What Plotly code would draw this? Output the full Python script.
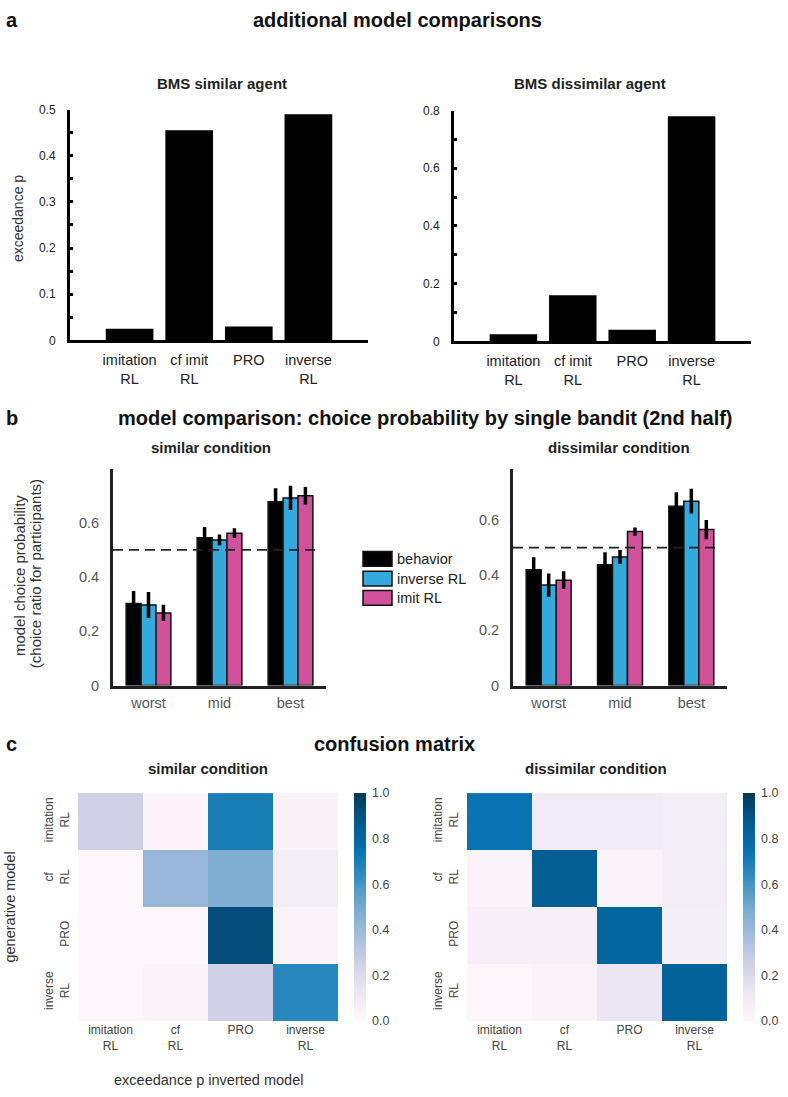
import plotly.graph_objects as go

# ---------------- data ----------------
bms_models = ["imitation<br>RL", "cf imit<br>RL", "PRO", "inverse<br>RL"]
bms_similar = [0.025, 0.455, 0.03, 0.49]
bms_dissimilar = [0.025, 0.16, 0.04, 0.78]

bandits = ["worst", "mid", "best"]
series_names = ["behavior", "inverse RL", "imit RL"]
series_colors = ["#000000", "#34a9dc", "#cf529b"]
sim_means = {
    "behavior": [0.303, 0.545, 0.678],
    "inverse RL": [0.297, 0.537, 0.692],
    "imit RL": [0.268, 0.562, 0.700],
}
sim_errs = {
    "behavior": [0.046, 0.040, 0.050],
    "inverse RL": [0.048, 0.020, 0.045],
    "imit RL": [0.030, 0.018, 0.032],
}
dis_means = {
    "behavior": [0.420, 0.438, 0.650],
    "inverse RL": [0.364, 0.466, 0.668],
    "imit RL": [0.382, 0.558, 0.565],
}
dis_errs = {
    "behavior": [0.045, 0.045, 0.050],
    "inverse RL": [0.042, 0.025, 0.045],
    "imit RL": [0.032, 0.015, 0.035],
}
chance_level = 0.5

cm_labels = ["imitation<br>RL", "cf<br>RL", "PRO", "inverse<br>RL"]
cm_similar = [
    [0.25, 0.02, 0.70, 0.04],
    [0.01, 0.41, 0.47, 0.08],
    [0.01, 0.01, 0.92, 0.03],
    [0.01, 0.03, 0.25, 0.66],
]
cm_dissimilar = [
    [0.74, 0.09, 0.09, 0.08],
    [0.03, 0.85, 0.03, 0.08],
    [0.06, 0.06, 0.81, 0.07],
    [0.01, 0.03, 0.13, 0.83],
]

# ---------------- layout helpers ----------------
W, H = 788, 1097
FONT = "Liberation Sans, Arial, Helvetica, sans-serif"


def xd(a, b):
    return [a / W, b / W]


def yd(top, bottom):
    return [1 - bottom / H, 1 - top / H]


def px(x):
    return x / W


def py(y):
    return 1 - y / H


fig = go.Figure()

# ---- panel a ----
fig.add_trace(go.Bar(x=[1, 2, 3, 4], y=bms_similar, width=0.8,
                     marker=dict(color="black", line=dict(width=0)),
                     xaxis="x", yaxis="y", showlegend=False))
fig.add_trace(go.Bar(x=[1, 2, 3, 4], y=bms_dissimilar, width=0.8,
                     marker=dict(color="black", line=dict(width=0)),
                     xaxis="x2", yaxis="y2", showlegend=False))

# ---- panel b ----
for i, name in enumerate(series_names):
    fig.add_trace(go.Bar(
        x=[1, 2, 3], y=sim_means[name], name=name,
        marker=dict(color=series_colors[i], line=dict(color="#111111", width=1.5)),
        error_y=dict(type="data", array=sim_errs[name], color="black", thickness=3.5, width=0),
        xaxis="x3", yaxis="y3", offsetgroup=str(i), showlegend=False))
    fig.add_trace(go.Bar(
        x=[1, 2, 3], y=dis_means[name], name=name,
        marker=dict(color=series_colors[i], line=dict(color="#111111", width=1.5)),
        error_y=dict(type="data", array=dis_errs[name], color="black", thickness=3.5, width=0),
        xaxis="x4", yaxis="y4", offsetgroup=str(i), showlegend=False))

# ---- panel c ----
cb_common = dict(thickness=12, len=231 / H, lenmode="fraction", yanchor="middle",
                 y=py(912.5), xanchor="left", xpad=0, ypad=0, outlinewidth=0,
                 tickvals=[0, 0.2, 0.4, 0.6, 0.8, 1.0], tickformat=".1f",
                 ticks="outside", ticklen=4, tickcolor="rgba(0,0,0,0)",
                 tickfont=dict(size=12.5, color="#444444", family=FONT))
fig.add_trace(go.Heatmap(z=cm_similar, x=cm_labels, y=cm_labels, colorscale="PuBu",
                         zmin=0, zmax=1, xaxis="x5", yaxis="y5",
                         colorbar=dict(x=px(354), **cb_common)))
fig.add_trace(go.Heatmap(z=cm_dissimilar, x=cm_labels, y=cm_labels, colorscale="PuBu",
                         zmin=0, zmax=1, xaxis="x6", yaxis="y6",
                         colorbar=dict(x=px(743), **cb_common)))

# ---------------- axes ----------------
a_x = dict(range=[0, 5], showline=True, linewidth=3, linecolor="black", showgrid=False,
           zeroline=False, tickvals=[1, 2, 3, 4], ticktext=bms_models, ticks="",
           tickfont=dict(size=14.5, color="#222222", family=FONT), ticklabelstandoff=4)
a_y = dict(showline=True, linewidth=3, linecolor="black", showgrid=False, zeroline=False,
           ticks="inside", ticklen=3, tickwidth=2.5, tickcolor="black",
           tickfont=dict(size=12, color="#222222", family=FONT), ticklabelstandoff=9)

b_x = dict(range=[0.5, 3.5], showline=True, linewidth=3, linecolor="#222222", showgrid=False,
           zeroline=False, tickvals=[1, 2, 3], ticktext=bandits, ticks="",
           tickfont=dict(size=14.5, color="#555555", family=FONT), ticklabelstandoff=2)
b_y = dict(showline=True, linewidth=3, linecolor="#222222", showgrid=False, zeroline=False,
           tickvals=[0, 0.2, 0.4, 0.6], ticktext=["0", "0.2", "0.4", "0.6"], ticks="",
           tickfont=dict(size=14.5, color="#555555", family=FONT), ticklabelstandoff=8)

c_x = dict(showline=False, showgrid=False, zeroline=False, ticks="",
           tickfont=dict(size=12, color="#444444", family=FONT), ticklabelstandoff=0)
c_y = dict(showline=False, showgrid=False, zeroline=False, ticks="", autorange="reversed",
           tickangle=-90, tickfont=dict(size=12, color="#444444", family=FONT),
           ticklabelstandoff=6)

fig.update_layout(
    width=W, height=H, margin=dict(l=0, r=0, t=0, b=0),
    paper_bgcolor="white", plot_bgcolor="white",
    font=dict(family=FONT, color="#222222"),
    barmode="group", bargap=0.37, bargroupgap=0,
    xaxis=dict(domain=xd(70, 368), anchor="y", **a_x),
    yaxis=dict(domain=yd(104, 338), anchor="x", range=[0, 0.5], dtick=0.1,
               minor=dict(dtick=0.05, ticks="inside", ticklen=3, tickwidth=2.5, tickcolor="black"),
               **a_y),
    xaxis2=dict(domain=xd(454, 751), anchor="y2", **a_x),
    yaxis2=dict(domain=yd(105, 339), anchor="x2", range=[0, 0.8], dtick=0.2,
                minor=dict(dtick=0.1, ticks="inside", ticklen=3, tickwidth=2.5, tickcolor="black"),
                **a_y),
    xaxis3=dict(domain=xd(113, 326), anchor="y3", **b_x),
    yaxis3=dict(domain=yd(468, 688), anchor="x3", range=[0, 0.8], **b_y),
    xaxis4=dict(domain=xd(513, 727), anchor="y4", **b_x),
    yaxis4=dict(domain=yd(468, 688), anchor="x4", range=[0, 0.786], **b_y),
    xaxis5=dict(domain=xd(78, 338), anchor="y5", **c_x),
    yaxis5=dict(domain=yd(797, 1028), anchor="x5", **c_y),
    xaxis6=dict(domain=xd(467, 727), anchor="y6", **c_x),
    yaxis6=dict(domain=yd(797, 1028), anchor="x6", **c_y),
)

# chance lines (panel b)
for xr, yr in [("x3", "y3"), ("x4", "y4")]:
    fig.add_shape(type="line", xref=xr, yref=yr, x0=0.5, x1=3.4, y0=chance_level, y1=chance_level,
                  line=dict(color="#222222", width=1.8, dash="10px,6px"), layer="above")

# legend (panel b) drawn manually with large swatches
leg_y = [559.5, 579.5, 599]
for i, name in enumerate(series_names):
    fig.add_shape(type="rect", xref="paper", yref="paper",
                  x0=px(363), x1=px(392), y0=py(leg_y[i] + 7.5), y1=py(leg_y[i] - 7.5),
                  fillcolor=series_colors[i], line=dict(color="#111111", width=1.5))
    fig.add_annotation(x=px(395), y=py(leg_y[i]), xref="paper", yref="paper", text=name,
                       showarrow=False, xanchor="left", yanchor="middle",
                       font=dict(size=14.5, color="#222222", family=FONT))


def ann(text, x, y, size, bold=False, color="#111111", angle=0, xanchor="center"):
    fig.add_annotation(x=px(x), y=py(y), xref="paper", yref="paper",
                       text=f"<b>{text}</b>" if bold else text, showarrow=False,
                       xanchor=xanchor, yanchor="middle", textangle=angle,
                       font=dict(size=size, color=color, family=FONT))


# panel labels and titles
ann("a", 4, 13, 20, bold=True, xanchor="left")
ann("additional model comparisons", 397, 13, 20, bold=True)
ann("BMS similar agent", 222, 78, 15, bold=True, color="#222222")
ann("BMS dissimilar agent", 590, 78, 15, bold=True, color="#222222")
ann("exceedance p", 18, 215, 14, color="#333333", angle=-90)

ann("b", 4, 417, 20, bold=True, xanchor="left")
ann("model comparison: choice probability by single bandit (2nd half)", 425, 417, 20, bold=True)
ann("similar condition", 211, 447, 15, bold=True, color="#222222")
ann("dissimilar condition", 619, 447, 15, bold=True, color="#222222")
ann("model choice probability", 19, 577, 15, color="#333333", angle=-90)
ann("(choice ratio for participants)", 35, 575, 15, color="#333333", angle=-90)

ann("c", 4, 747, 20, bold=True, xanchor="left")
ann("confusion matrix", 394, 747, 20, bold=True)
ann("similar condition", 208, 772, 15, bold=True, color="#222222")
ann("dissimilar condition", 596, 772, 15, bold=True, color="#222222")
ann("generative model", 10, 913, 14.5, color="#333333", angle=-90)
ann("exceedance p inverted model", 208, 1088, 14.5, color="#333333")

fig.write_html(
    "out.html",
    config={"displayModeBar": False},
    post_script=(
        "document.body.style.margin='0';"
        "document.documentElement.style.overflow='hidden';"
        "document.body.style.overflow='hidden';"
        "var d=document.getElementById('{plot_id}');"
        "d.style.position='fixed';d.style.top='0px';d.style.left='0px';"
    ),
)
